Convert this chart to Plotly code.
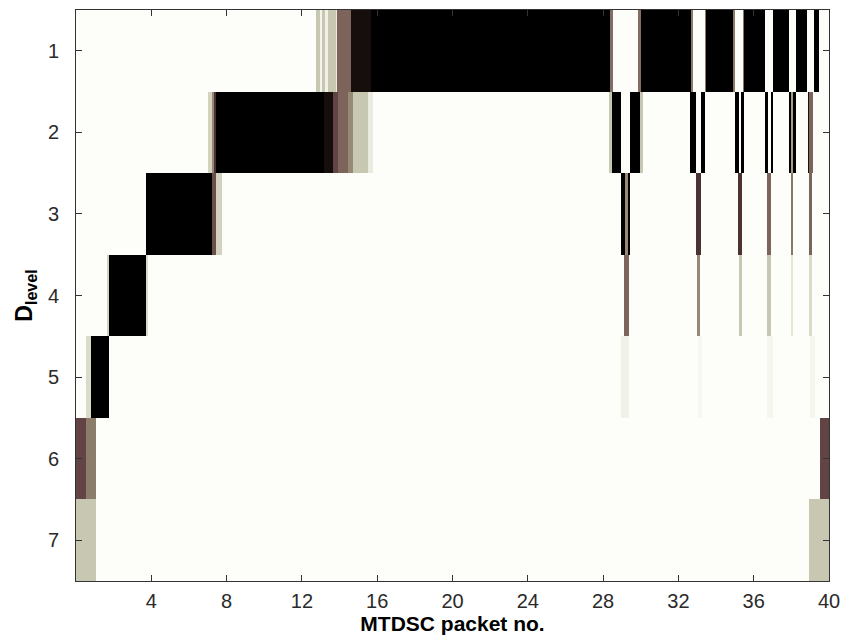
import numpy as np
import plotly.graph_objects as go

# ---- data: (x_start, x_end, intensity) per D-level row ----
row1 = [(12.77, 12.95, 0.30), (12.95, 13.05, 0.06), (13.05, 13.25, 0.30), (13.25, 13.40, 0.08),
        (13.40, 13.80, 0.30), (13.80, 13.88, 0.12), (13.88, 14.62, 0.60), (14.62, 15.67, 0.92),
        (15.67, 28.35, 1.0), (28.35, 28.50, 0.55), (29.87, 30.03, 0.55), (30.03, 32.66, 1.0),
        (32.66, 32.75, 0.5), (33.40, 33.46, 0.5), (33.46, 34.93, 1.0), (34.93, 35.00, 0.5),
        (35.45, 35.51, 0.5), (35.51, 36.57, 1.0), (36.57, 36.62, 0.5), (37.00, 37.05, 0.5),
        (37.05, 37.84, 1.0), (38.26, 38.84, 1.0), (39.21, 39.47, 1.0)]
row2 = [(7.02, 7.20, 0.25), (7.20, 7.35, 0.45), (7.35, 7.44, 0.80), (7.44, 13.14, 1.0),
        (13.14, 13.67, 0.92), (13.67, 13.93, 0.75), (13.93, 14.46, 0.60), (14.46, 14.72, 0.45),
        (14.72, 15.51, 0.30), (15.51, 15.78, 0.12),
        (28.30, 28.45, 0.30), (28.45, 28.95, 1.0), (29.45, 29.98, 1.0), (29.98, 30.10, 0.30),
        (32.61, 32.93, 1.0), (33.19, 33.40, 1.0), (34.99, 35.20, 1.0), (35.36, 35.51, 1.0),
        (36.57, 36.78, 1.0), (36.89, 37.05, 1.0), (37.84, 38.00, 1.0), (38.00, 38.10, 0.40),
        (38.10, 38.26, 1.0), (38.89, 38.95, 0.90), (38.95, 39.15, 0.60)]
row3 = [(3.69, 7.23, 1.0), (7.23, 7.44, 0.70), (7.44, 7.76, 0.25),
        (28.97, 29.18, 1.0), (29.18, 29.29, 0.45), (29.29, 29.45, 1.0),
        (32.93, 33.19, 0.80), (35.15, 35.41, 0.80), (36.73, 36.89, 0.60),
        (38.00, 38.10, 0.50), (38.95, 39.10, 0.60)]
row4 = [(1.64, 1.74, 0.25), (1.74, 3.69, 1.0), (3.69, 3.80, 0.20),
        (29.13, 29.34, 0.60), (32.98, 33.14, 0.45), (35.20, 35.41, 0.30),
        (36.73, 36.89, 0.30), (38.00, 38.10, 0.15), (38.95, 39.10, 0.20)]
row5 = [(0.53, 0.79, 0.20), (0.79, 1.74, 1.0),
        (28.97, 29.34, 0.08), (33.03, 33.25, 0.04), (36.73, 36.99, 0.05), (39.00, 39.26, 0.05)]
row6 = [(0.0, 0.53, 0.75), (0.53, 1.06, 0.48), (39.52, 40.0, 0.75)]
row7 = [(0.0, 1.06, 0.30), (38.95, 40.0, 0.30)]

levels = [1, 2, 3, 4, 5, 6, 7]
x_ticks = [4, 8, 12, 16, 20, 24, 28, 32, 36, 40]

# ---- build the image grid ----
step = 0.025
xc = np.arange(step / 2, 40, step)
rows = [row1, row2, row3, row4, row5, row6, row7]
z = np.zeros((len(rows), len(xc)))
for i, segs in enumerate(rows):
    for a, b, v in segs:
        z[i, (xc >= a) & (xc < b)] = v

colorscale = [
    [0.00, "rgb(253,253,249)"],
    [0.05, "rgb(246,246,239)"],
    [0.15, "rgb(229,229,214)"],
    [0.30, "rgb(200,200,178)"],
    [0.48, "rgb(140,125,106)"],
    [0.60, "rgb(125,100,90)"],
    [0.75, "rgb(98,68,68)"],
    [0.90, "rgb(28,16,16)"],
    [1.00, "rgb(0,0,0)"],
]

fig = go.Figure(go.Heatmap(
    x=xc, y=levels, z=z, zmin=0, zmax=1, colorscale=colorscale,
    showscale=False, zsmooth=False, hoverinfo="skip"))

axis_common = dict(
    showline=True, linecolor="#333333", linewidth=1, mirror="ticks",
    ticks="inside", ticklen=6, tickcolor="#333333", showgrid=False, zeroline=False,
    tickfont=dict(family="Liberation Sans, Arial", size=20, color="#2a2a2a"),
)

fig.update_layout(
    width=849, height=642,
    margin=dict(l=76, r=15, t=9, b=61),
    paper_bgcolor="white", plot_bgcolor="rgb(253,253,249)",
    xaxis=dict(range=[0, 40], tickvals=x_ticks, ticklabelstandoff=2,
               title=dict(text="<b>MTDSC packet no.</b>", standoff=4,
                          font=dict(family="Liberation Sans, Arial", size=21, color="black")),
               **axis_common),
    yaxis=dict(range=[7.5, 0.5], tickvals=levels, ticklabelstandoff=12,
               title=dict(text="<b>D<sub>level</sub></b>", standoff=8,
                          font=dict(family="Liberation Sans, Arial", size=23, color="black")),
               **axis_common),
)

fig.write_html("out.html")
